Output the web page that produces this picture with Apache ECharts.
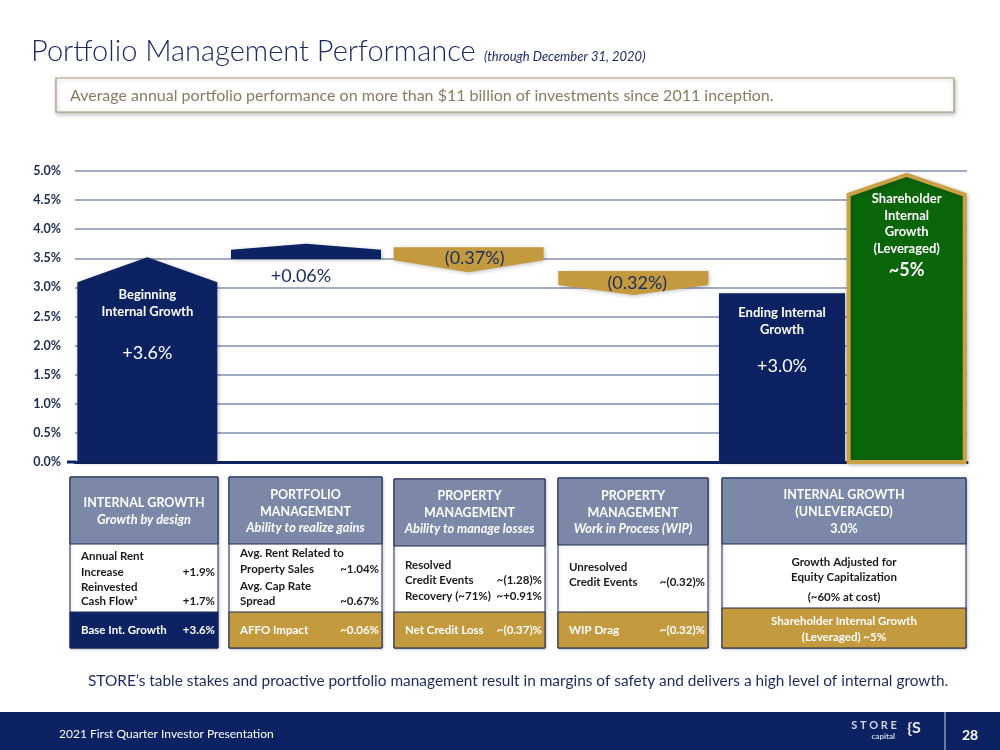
<!DOCTYPE html>
<html><head><meta charset="utf-8">
<script src="https://cdn.jsdelivr.net/npm/echarts@6/dist/echarts.min.js"></script>
<style>html,body{margin:0;padding:0;background:#fff}#c{width:1000px;height:750px}</style>
</head><body><div id="c"></div>
<script>
// ---------- data ----------
const categories = ['Beginning Internal Growth', 'Portfolio Management', 'Property Management (Losses)', 'Property Management (WIP)', 'Ending Internal Growth', 'Shareholder Internal Growth (Leveraged)'];
const barBottom = [0, 3.49, 3.26, 2.87, 0, 0];
const barTop = [3.52, 3.75, 3.69, 3.28, 2.90, 4.97];
const barDirection = ['up', 'up', 'down', 'down', 'flat', 'up'];
const barTitles = [['Beginning', 'Internal Growth'], [], [], [], ['Ending Internal', 'Growth'], ['Shareholder', 'Internal', 'Growth', '(Leveraged)']];
const barValueLabels = ['+3.6%', '+0.06%', '(0.37%)', '(0.32%)', '+3.0%', '~5%'];
const yMin = 0, yMax = 5, yStep = 0.5;

// ---------- styles ----------
const NAVY = '#0c2262', GOLD = '#c49a3e', GREEN = '#0b650b', HEAD = '#7b88a8';
const barOffset = [-2, 8, 22, 38, 38, 14];
const barWidth = [140, 150, 150, 150, 126, 120];
const headDepth = [25, 6, 12, 10, 0, 20];
const barFill = [NAVY, NAVY, GOLD, GOLD, NAVY, GREEN];
const titleOffsets = [[38, 55], [], [], [], [20, 37], [26, 43, 59, 76]];
const valueOffset = [96, 17, 11, 12, 73, 97];   // from top of bar (or bottom for bar 2)

const FONT = 'Lato, "Open Sans", sans-serif';

function txt(x, y, text, o) {
  o = o || {};
  return {
    type: 'text', x: x, y: y, z: o.z || 10,
    style: {
      text: text, fill: o.fill || '#1a1a1a',
      font: (o.italic ? 'italic ' : '') + (o.weight || 'bold') + ' ' + (o.size || 12) + 'px ' + FONT,
      align: o.align || 'left', verticalAlign: 'middle',
      textAlign: o.align || 'left', textVerticalAlign: 'middle'
    }
  };
}
function rect(x, y, w, h, fill, o) {
  o = o || {};
  return { type: 'rect', shape: { x: x, y: y, width: w, height: h }, z: o.z || 5,
    style: { fill: fill, stroke: o.stroke || null, lineWidth: o.lw || 0,
      shadowBlur: o.sb || 0, shadowColor: o.sc || 'transparent', shadowOffsetX: o.sx || 0, shadowOffsetY: o.sy || 0 } };
}

// ---------- tables (graphic) ----------
const G = [];
// title
G.push(txt(31, 52, 'Portfolio Management Performance', { fill: '#1b2b63', weight: 300, size: 29 }));
G.push(txt(484, 57, '(through December 31, 2020)', { fill: '#1b2b63', weight: 'normal', size: 13, italic: true }));
// subtitle box
G.push(rect(56, 78, 898, 34, '#fff', { stroke: '#a8957a', lw: 1.2, sb: 4, sc: 'rgba(0,0,0,0.25)', sx: 1, sy: 2 }));
G.push(txt(70, 96, 'Average annual portfolio performance on more than $11 billion of investments since 2011 inception.', { fill: '#8a7a62', weight: 'normal', size: 16 }));

// tables
const tables = [
  { x: 70, w: 148, top: 477, midTop: 544, botTop: 612, bot: 648, botFill: NAVY,
    head: [['INTERNAL GROWTH', 503, false], ['Growth by design', 520, true]],
    rows: [['Annual Rent', '', 556], ['Increase', '+1.9%', 572], ['Reinvested', '', 587], ['Cash Flow\u00B9', '+1.7%', 601]],
    bottom: [['Base Int. Growth', '+3.6%', 630]] },
  { x: 229, w: 153, top: 477, midTop: 544, botTop: 612, bot: 648, botFill: GOLD,
    head: [['PORTFOLIO', 495, false], ['MANAGEMENT', 512, false], ['Ability to realize gains', 528, true]],
    rows: [['Avg. Rent Related to', '', 553], ['Property Sales', '~1.04%', 569], ['Avg. Cap Rate', '', 586], ['Spread', '~0.67%', 601]],
    bottom: [['AFFO Impact', '~0.06%', 630]] },
  { x: 394, w: 151, top: 479, midTop: 546, botTop: 612, bot: 648, botFill: GOLD,
    head: [['PROPERTY', 496, false], ['MANAGEMENT', 513, false], ['Ability to manage losses', 529, true]],
    rows: [['Resolved', '', 565], ['Credit Events', '~(1.28)%', 580], ['Recovery (~71%)', '~+0.91%', 596]],
    bottom: [['Net Credit Loss', '~(0.37)%', 630]] },
  { x: 558, w: 150, top: 478, midTop: 545, botTop: 612, bot: 648, botFill: GOLD,
    head: [['PROPERTY', 496, false], ['MANAGEMENT', 513, false], ['Work in Process (WIP)', 529, true]],
    rows: [['Unresolved', '', 567], ['Credit Events', '~(0.32)%', 582]],
    bottom: [['WIP Drag', '~(0.32)%', 630]] },
  { x: 722, w: 244, top: 478, midTop: 544, botTop: 608, bot: 648, botFill: GOLD, center: true,
    head: [['INTERNAL GROWTH', 495, false], ['(UNLEVERAGED)', 512, false], ['3.0%', 529, false]],
    rows: [['Growth Adjusted for', '', 562], ['Equity Capitalization', '', 577], ['(~60% at cost)', '', 597]],
    bottom: [['Shareholder Internal Growth', '', 621], ['(Leveraged) ~5%', '', 637]] }
];
tables.forEach(t => {
  const cx = t.x + t.w / 2;
  G.push(rect(t.x, t.top, t.w, t.bot - t.top, '#fff', { stroke: '#1c2a55', lw: 1, sb: 3, sc: 'rgba(0,0,0,0.2)', sx: 1, sy: 1 }));
  G.push(rect(t.x, t.top, t.w, t.midTop - t.top, HEAD, { stroke: '#1c2a55', lw: 1, z: 6 }));
  G.push(rect(t.x, t.botTop, t.w, t.bot - t.botTop, t.botFill, { stroke: '#1c2a55', lw: 1, z: 6 }));
  t.head.forEach(h => G.push(txt(cx, h[1], h[0], { fill: '#fff', size: h[2] ? 12.8 : 12.5, italic: h[2], align: 'center' })));
  t.rows.forEach(r => {
    if (t.center) G.push(txt(cx, r[2], r[0], { fill: '#1a1a1a', size: 11.5, align: 'center' }));
    else {
      G.push(txt(t.x + 11, r[2], r[0], { fill: '#1a1a1a', size: 11.5 }));
      if (r[1]) G.push(txt(t.x + t.w - 3, r[2], r[1], { fill: '#1a1a1a', size: 11.5, align: 'right' }));
    }
  });
  t.bottom.forEach(r => {
    if (t.center) G.push(txt(cx, r[2], r[0], { fill: '#fff', size: 11.5, align: 'center' }));
    else {
      G.push(txt(t.x + 11, r[2], r[0], { fill: '#fff', size: 11.5 }));
      G.push(txt(t.x + t.w - 3, r[2], r[1], { fill: '#fff', size: 11.5, align: 'right' }));
    }
  });
});

// caption
G.push(txt(88, 681, 'STORE\u2019s table stakes and proactive portfolio management result in margins of safety and delivers a high level of internal growth.', { fill: '#1b2b5e', weight: 'normal', size: 15.4 }));
// footer
G.push(rect(0, 712, 1000, 38, NAVY, { z: 5 }));
G.push({ type: 'line', z: 6, shape: { x1: 945, y1: 712, x2: 945, y2: 750 }, style: { stroke: '#8b97b8', lineWidth: 1.5 } });
G.push(txt(59, 734, '2021 First Quarter Investor Presentation', { fill: '#fff', weight: 'normal', size: 12 }));
G.push(txt(970, 735, '28', { fill: '#fff', size: 14, align: 'center' }));
G.push(txt(874, 725, 'S T O R E', { fill: '#cfd5e3', size: 11, align: 'center' }));
G.push(txt(895, 736, 'capital', { fill: '#cfd5e3', size: 8, align: 'right' }));
G.push(txt(914, 728, '{S', { fill: '#e6e9f0', size: 16, align: 'center' }));
// axis line extension
G.push({ type: 'line', z: 20, shape: { x1: 67, y1: 462, x2: 76, y2: 462 }, style: { stroke: NAVY, lineWidth: 3 } });

// ---------- chart ----------
const chart = echarts.init(document.getElementById('c'), null, { renderer: 'canvas' });

function renderItem(params, api) {
  const i = params.dataIndex;
  const cx = api.coord([i, 0])[0] + barOffset[i];
  const yb = api.coord([i, api.value(1)])[1];
  const yt = api.coord([i, api.value(2)])[1];
  const w = barWidth[i], h = headDepth[i];
  let x0 = cx - w / 2, x1 = cx + w / 2;
  let pts, style = { fill: barFill[i], shadowBlur: 4, shadowColor: 'rgba(0,0,0,0.25)', shadowOffsetX: 1, shadowOffsetY: 1 };
  if (i === 5) { x0 += 2; x1 -= 2; style.stroke = '#c9a043'; style.lineWidth = 4; style.lineJoin = 'miter'; }
  const yt2 = i === 5 ? yt + 2 : yt;
  if (barDirection[i] === 'up') pts = [[x0, yb], [x0, yt2 + h], [cx, yt2], [x1, yt2 + h], [x1, yb]];
  else if (barDirection[i] === 'down') pts = [[x0, yt], [x1, yt], [x1, yb - h], [cx, yb], [x0, yb - h]];
  else pts = [[x0, yb], [x0, yt], [x1, yt], [x1, yb]];
  const children = [{ type: 'polygon', shape: { points: pts }, style: style }];
  barTitles[i].forEach((t, k) => children.push({
    type: 'text', x: cx, y: yt + titleOffsets[i][k],
    style: { text: t, fill: '#fff', font: 'bold 13px ' + FONT, align: 'center', verticalAlign: 'middle', textAlign: 'center', textVerticalAlign: 'middle' }
  }));
  const inside = (i === 0 || i === 4 || i === 5);
  const vy = i === 1 ? yb + valueOffset[i] : yt + valueOffset[i];
  children.push({
    type: 'text', x: i === 2 ? cx + 6 : (i === 1 ? cx - 5 : (i === 3 ? cx + 4 : cx)), y: vy,
    style: { text: barValueLabels[i], fill: inside ? '#fff' : '#1b2b5e',
      font: (i === 5 ? 'bold 18px ' : 'normal 18px ') + FONT,
      align: 'center', verticalAlign: 'middle', textAlign: 'center', textVerticalAlign: 'middle' }
  });
  return { type: 'group', children: children };
}

chart.setOption({
  animation: false,
  backgroundColor: '#fff',
  grid: { left: 75, right: 33, top: 171, bottom: 288, containLabel: false },
  xAxis: {
    type: 'category', data: categories,
    axisLine: { show: true, lineStyle: { color: NAVY, width: 3 } },
    axisTick: { show: false }, axisLabel: { show: false }, splitLine: { show: false }
  },
  yAxis: {
    type: 'value', min: yMin, max: yMax, interval: yStep,
    axisLine: { show: false }, axisTick: { show: false },
    axisLabel: { margin: 14, color: '#1d2b52', fontFamily: FONT, fontWeight: 'bold', fontSize: 12.5,
      formatter: v => v.toFixed(1) + '%' },
    splitLine: { lineStyle: { color: '#8190b0', width: 1.6 } }
  },
  series: [{
    type: 'custom', renderItem: renderItem, z: 3,
    encode: { x: 0, y: [1, 2] },
    data: categories.map((c, i) => [i, barBottom[i], barTop[i]])
  }],
  graphic: { elements: G }
});
</script></body></html>
